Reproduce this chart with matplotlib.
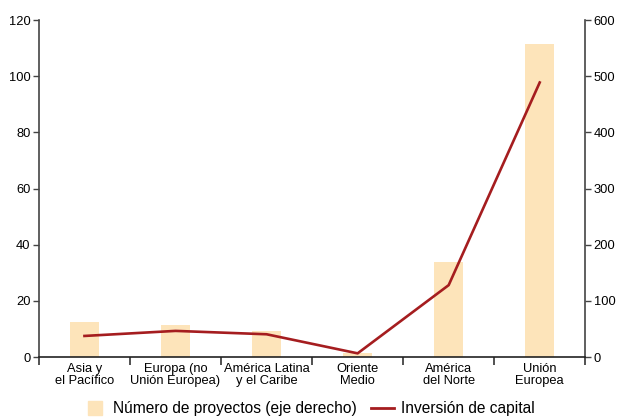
import numpy as np
import matplotlib.pyplot as plt
from matplotlib.lines import Line2D

plt.rcParams['font.family'] = ['Liberation Sans', 'DejaVu Sans']

# data
regiones = ['Asia y\nel Pacífico', 'Europa (no\nUnión Europea)', 'América Latina\ny el Caribe',
            'Oriente\nMedio', 'América\ndel Norte', 'Unión\nEuropea']
proyectos = [62, 57, 46, 7, 170, 557]          # eje derecho (barras)
inversion = [7.5, 9.3, 8.1, 1.3, 25.6, 97.8]   # eje izquierdo (línea)

bar_color = '#FDE4BA'
line_color = '#A51D1F'

fig = plt.figure(figsize=(6.18, 4.2), dpi=100)
ax = fig.add_axes([0.063, 0.15, 0.884, 0.802])
ax2 = ax.twinx()

x = np.arange(len(regiones))
ax2.bar(x, proyectos, width=0.32, color=bar_color)
ax.plot(x, inversion, color=line_color, lw=1.9)

# line above bars
ax.set_zorder(ax2.get_zorder() + 1)
ax.patch.set_visible(False)

ax.set_xlim(-0.5, len(regiones) - 0.5)
ax.set_ylim(0, 120)
ax2.set_ylim(0, 600)
ax.set_yticks(range(0, 121, 20))
ax2.set_yticks(range(0, 601, 100))

# ticks at boundaries, labels centred
ax.set_xticks(np.arange(-0.5, len(regiones), 1))
ax.set_xticklabels([])
ax.set_xticks(x, minor=True)
ax.set_xticklabels(regiones, minor=True, fontsize=9.3, linespacing=1.0)
ax.tick_params(axis='x', which='minor', length=0, pad=4)
ax.tick_params(axis='x', which='major', length=6, width=1.2, color='#333333')
ax.tick_params(axis='y', labelsize=9.3, length=4, width=1, color='#444444', pad=2)
ax2.tick_params(axis='y', labelsize=9.3, length=4, width=1, color='#444444', pad=2)

for a in (ax, ax2):
    a.spines['top'].set_visible(False)
ax.spines['right'].set_visible(False)
ax.spines['left'].set_color('#444444')
ax2.spines['left'].set_visible(False)
ax2.spines['right'].set_color('#444444')
ax2.spines['bottom'].set_visible(False)
ax.spines['bottom'].set_color('#222222')
ax.spines['bottom'].set_linewidth(1.2)
ax.spines['left'].set_linewidth(1.2)
ax2.spines['right'].set_linewidth(1.2)

handles = [Line2D([0], [0], ls='none', marker='s', markersize=10.5, color=bar_color),
           Line2D([0], [0], color=line_color, lw=2)]
labels = ['Número de proyectos (eje derecho)', 'Inversión de capital']
fig.legend(handles, labels, loc='lower center', bbox_to_anchor=(0.5, -0.025), ncol=2,
           frameon=False, fontsize=11.2, handlelength=1.5, handletextpad=0.45, columnspacing=0.9)

fig.savefig('out.png', dpi=100)
